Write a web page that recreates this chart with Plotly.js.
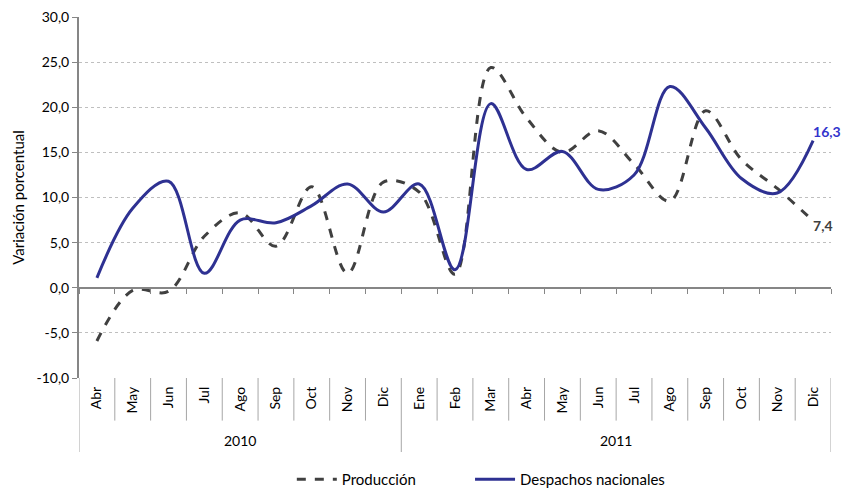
<!DOCTYPE html>
<html>
<head>
<meta charset="utf-8">
<script src="https://cdn.plot.ly/plotly-3.0.1.min.js"></script>
<style>
  html, body { margin: 0; padding: 0; background: #fff; }
  #myDiv { width: 844px; height: 496px; }
</style>
</head>
<body>
<div id="myDiv"></div>
<script>
// months and years of the x axis
let years = ["2010", "2010", "2010", "2010", "2010", "2010", "2010", "2010", "2010",
	"2011", "2011", "2011", "2011", "2011", "2011", "2011", "2011", "2011", "2011", "2011", "2011"]
let months = ["Abr", "May", "Jun", "Jul", "Ago", "Sep", "Oct", "Nov", "Dic",
	"Ene", "Feb", "Mar", "Abr", "May", "Jun", "Jul", "Ago", "Sep", "Oct", "Nov", "Dic"]

// variación porcentual
let produccion = [-5.9, -0.3, -0.4, 5.7, 8.3, 4.6, 11.2, 1.6, 11.7,
	10.6, 1.5, 24.4, 18.8, 15.0, 17.4, 13.7, 9.6, 19.6, 14.2, 11.0, 7.4]
let despachos = [1.1, 8.8, 11.8, 1.6, 7.5, 7.2, 9.1, 11.5, 8.4,
	11.5, 2.0, 20.4, 13.1, 15.1, 10.9, 12.5, 22.3, 17.7, 12.1, 10.5, 16.3]

let yTicks = [-10, -5, 0, 5, 10, 15, 20, 25, 30]

let fnt = "Lato, Open Sans, Arial"
let gray = "#404040"
let blue = "#2e3192"
let divColor = "#a6a6a6"

// x positions = index of the month
let idx = months.map((m, i) => i)

function fmt(v){
	return v.toFixed(1).replace(".", ",")
}

function lastLabel(arr){
	// only the last point gets its value written
	return arr.map((v, i) => (i == arr.length - 1) ? fmt(v) : "")
}

// dividers under the axis, and the year labels
let shapesArray = []
let yearAnn = []
for (let i = 0; i <= months.length; i++){
	let yearEdge = (i == 0) || (i == months.length) || (years[i] != years[i - 1])
	shapesArray.push({
		type: "line", xref: "x", yref: "paper",
		x0: i - 0.5, x1: i - 0.5,
		y0: 0, y1: yearEdge ? -0.205 : -0.118,
		line: {color: divColor, width: 1}
	})
}
let uniqYears = [...new Set(years)]
for (let yr of uniqYears){
	let first = years.indexOf(yr)
	let last = years.lastIndexOf(yr)
	yearAnn.push({
		x: (first + last) / 2, xref: "x",
		y: -0.172, yref: "paper", yanchor: "middle",
		text: yr, showarrow: false,
		font: {family: fnt, size: 14, color: "#000"}
	})
}

var data = [
	{
		x: idx,
		y: produccion,
		name: "Producción",
		legend: "legend",
		mode: "lines+text",
		text: lastLabel(produccion),
		textposition: "bottom right",
		textfont: {family: fnt, size: 14, color: gray, weight: "bold"},
		cliponaxis: false,
		line: {color: gray, width: 3, dash: "dash", shape: "spline", smoothing: 1}
	},
	{
		x: idx,
		y: despachos,
		name: "Despachos nacionales",
		legend: "legend2",
		mode: "lines+text",
		text: lastLabel(despachos),
		textposition: "top right",
		textfont: {family: fnt, size: 14, color: "#3333cc", weight: "bold"},
		cliponaxis: false,
		line: {color: blue, width: 3, shape: "spline", smoothing: 1}
	},
	// only there to draw the small tick marks on the zero line
	{
		x: idx,
		y: idx.map(() => null),
		xaxis: "x2",
		showlegend: false,
		hoverinfo: "skip"
	}
]

// one legend per series, so each can sit where it does in the original
function legendAt(xPos){
	return {
		orientation: "h",
		x: xPos,
		xanchor: "left",
		yref: "container",
		y: 0,
		yanchor: "bottom",
		font: {family: fnt, size: 15},
		itemwidth: 40
	}
}

var layout = {
	width: 844,
	height: 496,
	font: {family: fnt, size: 13, color: "#000"},
	paper_bgcolor: "#fff",
	plot_bgcolor: "#fff",
	margin: {l: 79, r: 13, t: 17, b: 118},
	showlegend: true,
	legend: legendAt(0.283),
	legend2: legendAt(0.52),
	xaxis: {
		range: [-0.5, months.length - 0.5],
		tickvals: idx,
		ticktext: months,
		tickangle: -90,
		tickfont: {family: fnt, size: 14, color: "#000"},
		showgrid: false,
		showline: false,
		zeroline: false,
		ticks: "",
		ticklabelstandoff: 5
	},
	xaxis2: {
		range: [-0.5, months.length - 0.5],
		overlaying: "x",
		anchor: "free",
		position: 0.25,
		side: "bottom",
		showticklabels: false,
		showgrid: false,
		zeroline: false,
		showline: true,
		linecolor: "#868686",
		linewidth: 2,
		ticks: "outside",
		ticklen: 5,
		tickcolor: "#868686",
		tickmode: "linear",
		tick0: -0.5,
		dtick: 1
	},
	yaxis: {
		range: [-10, 30],
		tickvals: yTicks,
		ticktext: yTicks.map(fmt),
		tickfont: {family: fnt, size: 14, color: "#000"},
		showgrid: true,
		gridcolor: "#bfbfbf",
		griddash: "dot",
		gridwidth: 1,
		zeroline: false,
		showline: true,
		linecolor: "#868686",
		linewidth: 2,
		ticks: "outside",
		ticklen: 5,
		tickcolor: "#868686",
		title: {text: "Variación porcentual", font: {family: fnt, size: 15}, standoff: 8}
	},
	shapes: shapesArray,
	annotations: yearAnn
}

Plotly.newPlot("myDiv", data, layout, {displayModeBar: false})
</script>
</body>
</html>
